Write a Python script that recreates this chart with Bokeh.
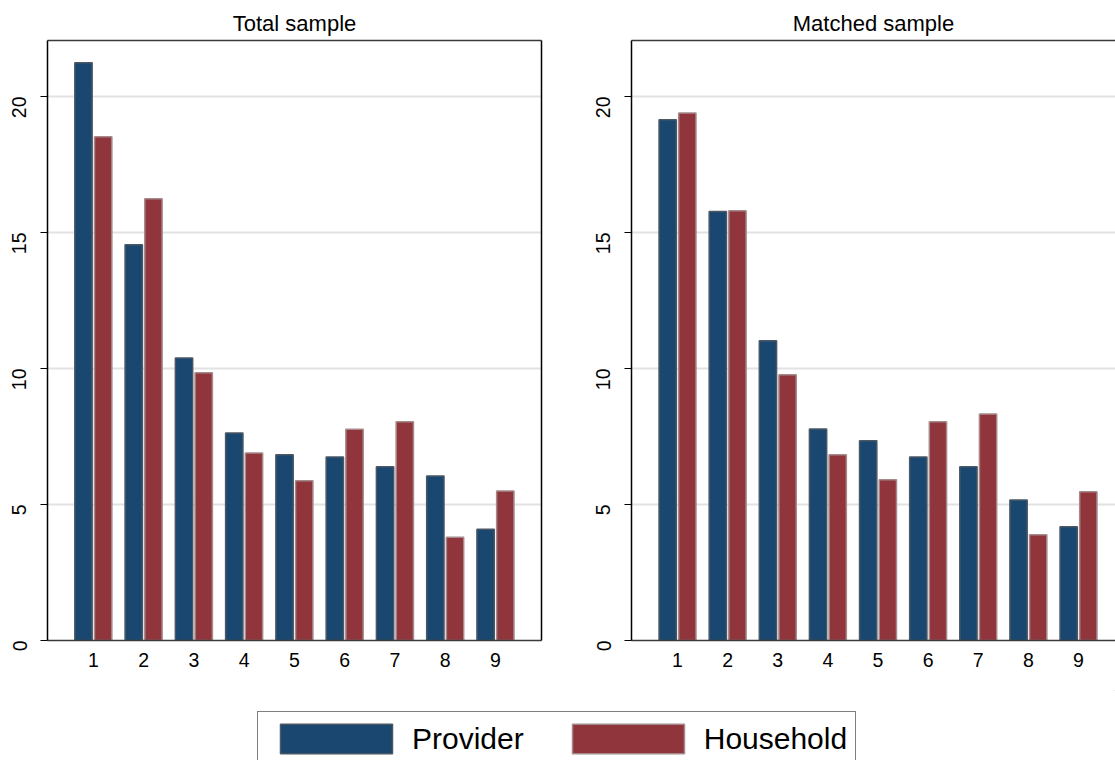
import math
from bokeh.plotting import figure
from bokeh.models import (ColumnDataSource, FixedTicker, LinearAxis, Legend, LegendItem, Range1d)
from bokeh.transform import dodge
from bokeh.layouts import column, row
from bokeh.embed import file_html
from bokeh.resources import INLINE

categories = [1, 2, 3, 4, 5, 6, 7, 8, 9]
tick_labels = ["1", "2", "3", "4", "5", "6", "7", "8", "9"]
total_provider = [21.24, 14.55, 10.39, 7.63, 6.83, 6.75, 6.39, 6.05, 4.09]
total_household = [18.52, 16.24, 9.84, 6.89, 5.87, 7.77, 8.04, 3.80, 5.50]
matched_provider = [19.15, 15.77, 11.02, 7.78, 7.34, 6.75, 6.39, 5.17, 4.18]
matched_household = [19.39, 15.80, 9.77, 6.83, 5.91, 8.04, 8.33, 3.89, 5.47]
panel_titles = ["Total sample", "Matched sample"]
series_names = ["Provider", "Household"]
y_ticks = [0, 5, 10, 15, 20]

FONT = "Liberation Sans"
NAVY = "#1a476f"
MAROON = "#90353b"
NAVY_LINE = "#4a5866"
MAROON_LINE = "#a58a8c"
GRID = "#e2e2e2"


def panel(title, prov, hh, width, x_start, x_end, mb_left, mb_right, right_border):
    src = ColumnDataSource(dict(x=categories, prov=prov, hh=hh))
    p = figure(width=width, height=690, title=title, output_backend="svg",
               toolbar_location=None, x_range=Range1d(x_start, x_end),
               y_range=Range1d(0, 22.06), min_border_left=mb_left,
               min_border_right=mb_right, min_border_top=40, min_border_bottom=50)
    p.title.align = "center"
    p.title.text_font = FONT
    p.title.text_font_size = "22px"
    p.title.text_font_style = "normal"
    p.title.text_color = "black"
    p.outline_line_color = None
    p.background_fill_color = "white"
    p.border_fill_color = "white"

    p.vbar(x=dodge("x", -0.196, range=p.x_range), top="prov", width=0.345, bottom=0,
           source=src, fill_color=NAVY, line_color=NAVY_LINE, line_width=1.5)
    p.vbar(x=dodge("x", 0.196, range=p.x_range), top="hh", width=0.345, bottom=0,
           source=src, fill_color=MAROON, line_color=MAROON_LINE, line_width=1.5)

    xa = p.xaxis[0]
    xa.ticker = FixedTicker(ticks=categories)
    xa.major_label_overrides = {c: l for c, l in zip(categories, tick_labels)}
    xa.major_tick_out = 0
    xa.major_tick_in = 0
    xa.minor_tick_out = 0
    xa.minor_tick_in = 0
    xa.major_label_standoff = 12
    xa.major_label_text_font = FONT
    xa.major_label_text_font_size = "19.5px"
    xa.major_label_text_color = "black"
    xa.axis_line_color = "#3a3a3a"
    xa.axis_line_width = 1.5

    ya = p.yaxis[0]
    ya.ticker = FixedTicker(ticks=y_ticks)
    ya.major_label_orientation = math.pi / 2
    ya.major_tick_out = 7
    ya.major_tick_in = 0
    ya.minor_tick_out = 0
    ya.minor_tick_in = 0
    ya.major_tick_line_color = "black"
    ya.major_tick_line_width = 1.2
    ya.major_label_standoff = 21
    ya.major_label_text_font = FONT
    ya.major_label_text_font_size = "19.5px"
    ya.major_label_text_color = "black"
    ya.axis_line_color = "black"
    ya.axis_line_width = 1.5

    p.xgrid.visible = False
    p.ygrid.ticker = FixedTicker(ticks=[5, 10, 15, 20])
    p.ygrid.grid_line_color = GRID
    p.ygrid.grid_line_width = 2

    top = LinearAxis(ticker=FixedTicker(ticks=[]), major_tick_out=0, major_tick_in=0,
                     minor_tick_out=0, minor_tick_in=0, axis_line_color="#3a3a3a",
                     axis_line_width=1.5, major_label_text_font_size="0px",
                     major_label_standoff=0)
    p.add_layout(top, "above")
    if right_border:
        rt = LinearAxis(ticker=FixedTicker(ticks=[]), major_tick_out=0, major_tick_in=0,
                        minor_tick_out=0, minor_tick_in=0, axis_line_color="black",
                        axis_line_width=1.5, major_label_text_font_size="0px",
                        major_label_standoff=0)
        p.add_layout(rt, "right")
    return p


p1 = panel(panel_titles[0], total_provider, total_household, 585, 0.088, 9.916, 47, 44, True)
p2 = panel(panel_titles[1], matched_provider, matched_household, 530, 0.082, 9.738, 46, 0, False)

# legend strip below both panels
p3 = figure(width=1115, height=70, output_backend="svg", toolbar_location=None,
            x_axis_type=None, y_axis_type=None, min_border=0,
            x_range=Range1d(0, 1), y_range=Range1d(0, 1))
p3.outline_line_color = None
p3.grid.visible = False
# legend-key renderers kept outside the visible range
dummy = ColumnDataSource(dict(x=[5], top=[5], bottom=[4]))
r_prov = p3.vbar(x="x", top="top", bottom="bottom", width=0.1, source=dummy,
                 fill_color=NAVY, line_color=NAVY_LINE, line_width=1.5)
r_hh = p3.vbar(x="x", top="top", bottom="bottom", width=0.1, source=dummy,
               fill_color=MAROON, line_color=MAROON_LINE, line_width=1.5)
legend = Legend(items=[LegendItem(label=series_names[0], renderers=[r_prov]),
                       LegendItem(label=series_names[1], renderers=[r_hh])],
                orientation="horizontal", location=(257, -6),
                glyph_width=140, glyph_height=37, label_standoff=6, spacing=34,
                padding=8, margin=0, label_text_font=FONT,
                label_text_font_size="30px", label_text_color="black",
                border_line_color="black", border_line_width=1.5,
                background_fill_color="white", background_fill_alpha=1.0)
p3.add_layout(legend, "center")

layout = column(row(p1, p2), p3)
open("out.html", "w").write(file_html(layout, INLINE))
